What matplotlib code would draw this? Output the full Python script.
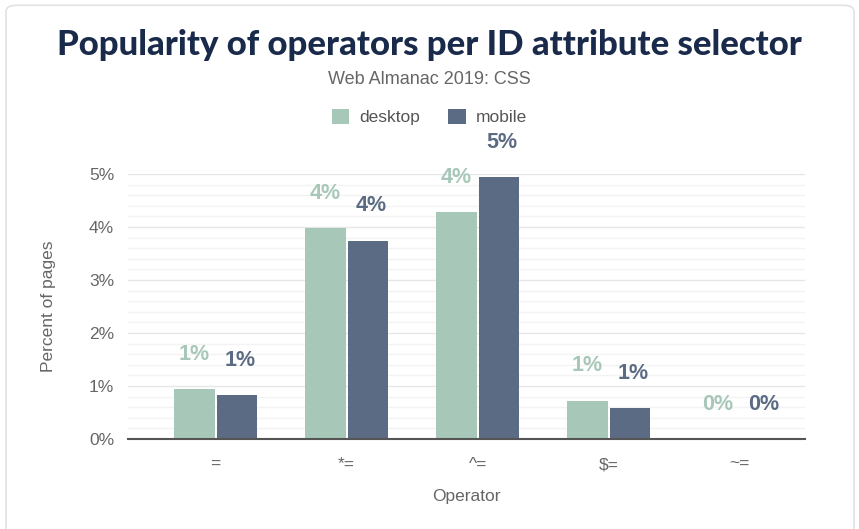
import matplotlib.pyplot as plt
from matplotlib.patches import FancyBboxPatch
from matplotlib.ticker import MultipleLocator, FuncFormatter
import numpy as np

# Data
operators = ['=', '*=', '^=', '$=', '~=']
desktop = [0.94, 3.98, 4.28, 0.72, 0.0]
mobile = [0.83, 3.74, 4.94, 0.58, 0.0]

desk_color = '#a7c8b8'
mob_color = '#5c6b84'

plt.rcParams['font.family'] = ['Liberation Sans', 'DejaVu Sans']

fig = plt.figure(figsize=(8.59, 5.29), dpi=100)

# card outline
card = FancyBboxPatch((6 / 859, -0.05), 848 / 859, 1.04, boxstyle='round,pad=0,rounding_size=0.012',
                      transform=fig.transFigure, facecolor='white', edgecolor='#e2e2e2', linewidth=1.2,
                      zorder=-10)
fig.patches.append(card)

ax = fig.add_axes([128 / 859, 1 - 439 / 529, 677 / 859, 265 / 529])
ax.set_facecolor('none')

x = np.arange(len(operators))
w = 0.31
ax.bar(x - w / 2 - 0.008, desktop, w, color=desk_color, label='desktop')
ax.bar(x + w / 2 + 0.008, mobile, w, color=mob_color, label='mobile')

# value labels
for i in range(len(operators)):
    ax.text(x[i] - w / 2 - 0.01, desktop[i] + 0.66, f'{round(desktop[i])}%', ha='center', va='center',
            color=desk_color, fontsize=15.5, fontweight='bold', clip_on=False)
    ax.text(x[i] + w / 2 + 0.03, mobile[i] + 0.66, f'{round(mobile[i])}%', ha='center', va='center',
            color=mob_color, fontsize=15.5, fontweight='bold', clip_on=False)

ax.set_xlim(-0.67, 4.5)
ax.set_ylim(0, 5)
ax.yaxis.set_major_locator(MultipleLocator(1))
ax.yaxis.set_minor_locator(MultipleLocator(0.2))
ax.yaxis.set_major_formatter(FuncFormatter(lambda v, p: f'{int(v)}%'))
ax.grid(axis='y', which='major', color='#e6e6e6', linewidth=1)
ax.grid(axis='y', which='minor', color='#f3f3f3', linewidth=1)
ax.set_axisbelow(True)
for s in ['top', 'right', 'left']:
    ax.spines[s].set_visible(False)
ax.spines['bottom'].set_color('#555555')
ax.spines['bottom'].set_linewidth(1.5)
ax.tick_params(axis='y', which='both', length=0, labelsize=12.5, labelcolor='#666666', pad=10)
ax.tick_params(axis='x', length=0, labelsize=12.5, labelcolor='#666666', pad=13)
ax.set_xticks(x)
ax.set_xticklabels(operators)

ax.set_ylabel('Percent of pages', fontsize=12.5, color='#666666', labelpad=24)
ax.set_xlabel('Operator', fontsize=12.5, color='#666666', labelpad=12)

fig.text(0.5, 1 - 45 / 529, 'Popularity of operators per ID attribute selector', ha='center', va='center',
         fontsize=25, fontweight='black', color='#1a2a4a', family=['Lato', 'DejaVu Sans'])
fig.text(0.5, 1 - 79 / 529, 'Web Almanac 2019: CSS', ha='center', va='center', fontsize=13, color='#666666')

leg = fig.legend(loc='center', bbox_to_anchor=(0.5, 1 - 117 / 529), ncol=2, frameon=False, fontsize=12.5,
                 handlelength=1.0, handleheight=1.0, handletextpad=0.6, columnspacing=1.6)
for t in leg.get_texts():
    t.set_color('#555555')

fig.savefig('out.png', dpi=100)
